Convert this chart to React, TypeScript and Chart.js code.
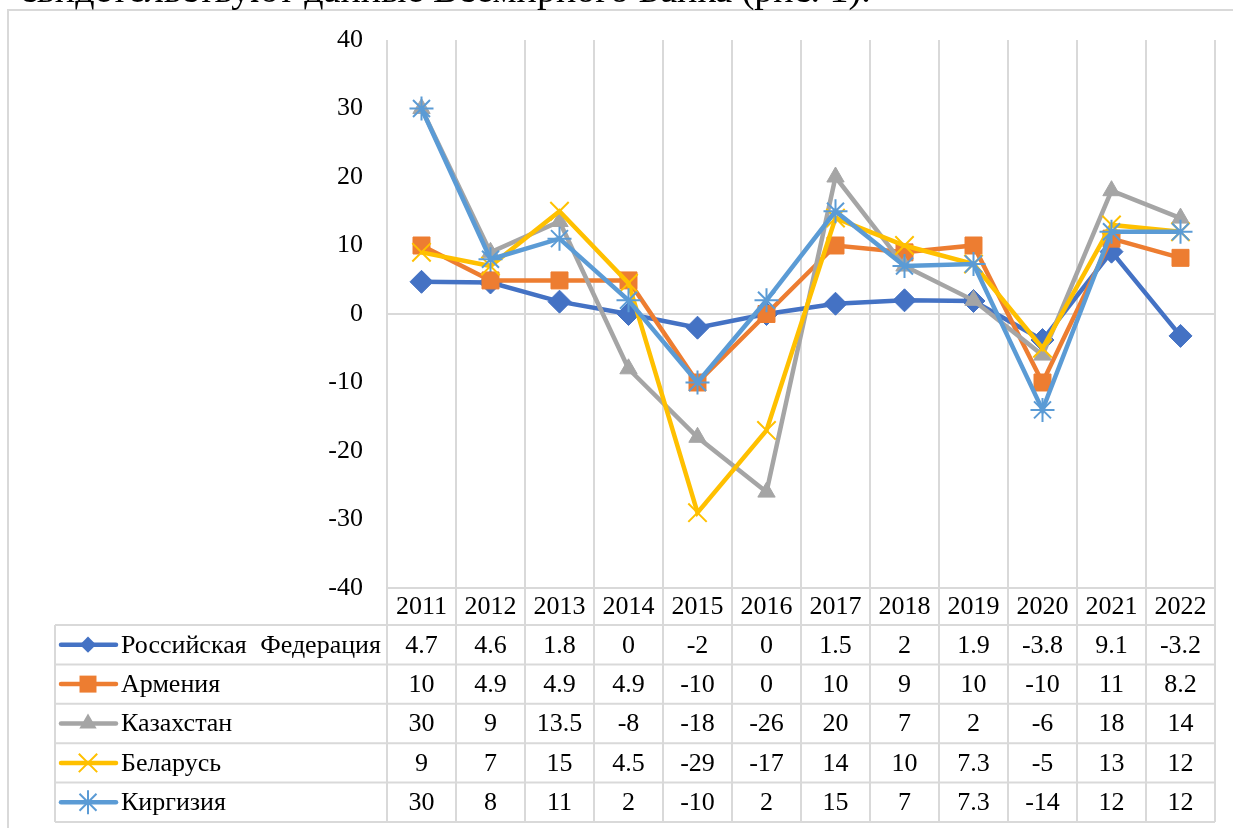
import React, { useEffect, useRef } from "react";
import { Chart, registerables } from "chart.js";

Chart.register(...registerables);

const years = ["2011", "2012", "2013", "2014", "2015", "2016", "2017", "2018", "2019", "2020", "2021", "2022"];
const russia = [4.7, 4.6, 1.8, 0, -2, 0, 1.5, 2, 1.9, -3.8, 9.1, -3.2];
const armenia = [10, 4.9, 4.9, 4.9, -10, 0, 10, 9, 10, -10, 11, 8.2];
const kazakhstan = [30, 9, 13.5, -8, -18, -26, 20, 7, 2, -6, 18, 14];
const belarus = [9, 7, 15, 4.5, -29, -17, 14, 10, 7.3, -5, 13, 12];
const kirgizia = [30, 8, 11, 2, -10, 2, 15, 7, 7.3, -14, 12, 12];
const seriesNames = ["Российская Федерация", "Армения", "Казахстан", "Беларусь", "Киргизия"];
const seriesColors = ["#4472C4", "#ED7D31", "#A5A5A5", "#FFC000", "#5B9BD5"];
const yTicks = [40, 30, 20, 10, 0, -10, -20, -30, -40];

const FONT = '"Liberation Serif", "Times New Roman", serif';
const FS = 26;
const GRID = "#d9d9d9";

const pointStyles: string[] = ["rectRot", "rect", "triangle", "crossRot", "star"];
const pointRadii = [11.5, 12, 10, 13, 12];

function drawMarker(ctx: CanvasRenderingContext2D, style: string, r: number, x: number, y: number, color: string) {
  const h = r * Math.SQRT1_2;
  ctx.save();
  ctx.fillStyle = color;
  ctx.strokeStyle = color;
  ctx.lineCap = "butt";
  ctx.beginPath();
  if (style === "rectRot") {
    ctx.moveTo(x, y - h);
    ctx.lineTo(x + h, y);
    ctx.lineTo(x, y + h);
    ctx.lineTo(x - h, y);
    ctx.closePath();
    ctx.fill();
  } else if (style === "rect") {
    ctx.rect(x - h, y - h, 2 * h, 2 * h);
    ctx.fill();
  } else if (style === "triangle") {
    ctx.moveTo(x, y - r);
    ctx.lineTo(x + 0.866 * r, y + 0.5 * r);
    ctx.lineTo(x - 0.866 * r, y + 0.5 * r);
    ctx.closePath();
    ctx.fill();
  } else if (style === "crossRot") {
    ctx.lineWidth = 2;
    ctx.moveTo(x - h, y - h);
    ctx.lineTo(x + h, y + h);
    ctx.moveTo(x - h, y + h);
    ctx.lineTo(x + h, y - h);
    ctx.stroke();
  } else if (style === "star") {
    ctx.lineWidth = 2;
    ctx.moveTo(x - h, y - h);
    ctx.lineTo(x + h, y + h);
    ctx.moveTo(x - h, y + h);
    ctx.lineTo(x + h, y - h);
    ctx.moveTo(x, y - r);
    ctx.lineTo(x, y + r);
    ctx.moveTo(x - r, y);
    ctx.lineTo(x + r, y);
    ctx.stroke();
  }
  ctx.restore();
}

const tablePlugin = {
  id: "tablePlugin",
  beforeDraw(chart: any) {
    const ctx = chart.ctx;
    ctx.save();
    ctx.fillStyle = "#ffffff";
    ctx.fillRect(0, 0, chart.width, chart.height);
    ctx.restore();
  },
  afterDraw(chart: any) {
    const ctx = chart.ctx;
    const area = chart.chartArea;
    const x = chart.scales.x;
    const n = years.length;
    const colW = (x.right - x.left) / n;
    const legendLeft = 55;
    const headerBottom = 625;
    const rowH = 39.4;
    const tableBottom = headerBottom + rowH * 5;
    ctx.save();
    ctx.strokeStyle = GRID;
    ctx.lineWidth = 2;
    ctx.beginPath();
    ctx.moveTo(8, chart.height);
    ctx.lineTo(8, 10);
    ctx.lineTo(chart.width, 10);
    ctx.stroke();
    ctx.beginPath();
    for (let k = 0; k <= n; k++) {
      const px = x.left + k * colW;
      ctx.moveTo(px, area.bottom);
      ctx.lineTo(px, tableBottom);
    }
    ctx.moveTo(x.left, area.bottom);
    ctx.lineTo(x.right, area.bottom);
    for (let r = 0; r <= 5; r++) {
      const py = headerBottom + r * rowH;
      ctx.moveTo(legendLeft, py);
      ctx.lineTo(x.right, py);
    }
    ctx.moveTo(legendLeft, headerBottom);
    ctx.lineTo(legendLeft, tableBottom);
    ctx.stroke();

    const dsets = chart.data.datasets;
    for (let r = 0; r < 5; r++) {
      const cy = headerBottom + r * rowH + rowH / 2;
      const ds = dsets[r];
      ctx.strokeStyle = ds.borderColor;
      ctx.lineWidth = 4.5;
      ctx.lineCap = "round";
      ctx.beginPath();
      ctx.moveTo(61, cy);
      ctx.lineTo(116, cy);
      ctx.stroke();
      drawMarker(ctx, pointStyles[r], pointRadii[r], 88, cy, seriesColors[r]);
      ctx.fillStyle = "#000";
      ctx.font = `${FS}px ${FONT}`;
      ctx.textAlign = "left";
      ctx.textBaseline = "middle";
      (ctx as any).wordSpacing = "7px";
      ctx.fillText(seriesNames[r], 121, cy + 1);
      (ctx as any).wordSpacing = "0px";
      ctx.textAlign = "center";
      const vals = ds.data as number[];
      for (let i = 0; i < n; i++) {
        ctx.fillText(String(vals[i]), x.getPixelForValue(i), cy + 1);
      }
    }
    ctx.restore();
  },
};

export default function App() {
  const ref = useRef<HTMLCanvasElement | null>(null);
  useEffect(() => {
    if (!ref.current) return;
    const all = [russia, armenia, kazakhstan, belarus, kirgizia];
    const chart = new Chart(ref.current, {
      type: "line",
      data: {
        labels: years,
        datasets: all.map((d, i) => ({
          label: seriesNames[i],
          data: d,
          borderColor: seriesColors[i],
          backgroundColor: seriesColors[i],
          pointBackgroundColor: seriesColors[i],
          pointBorderColor: seriesColors[i],
          pointStyle: pointStyles[i] as any,
          pointRadius: pointRadii[i],
          pointBorderWidth: i >= 3 ? 2 : 1,
          borderWidth: 4.5,
          tension: 0,
          order: 4 - i,
        })),
      },
      plugins: [tablePlugin],
      options: {
        animation: false,
        responsive: false,
        maintainAspectRatio: false,
        layout: { padding: { left: 0, top: 40, right: 18, bottom: 0 } },
        plugins: { legend: { display: false }, tooltip: { enabled: false } },
        scales: {
          x: {
            type: "category",
            offset: true,
            grid: { offset: true, color: GRID, lineWidth: 2, drawTicks: false },
            border: { display: false },
            ticks: { font: { family: FONT, size: FS }, color: "#000", padding: 4, maxRotation: 0, autoSkip: false },
            afterFit: (s: any) => { s.height = 240; },
          },
          y: {
            min: -40,
            max: 40,
            afterBuildTicks: (s: any) => { s.ticks = yTicks.map((v) => ({ value: v })); },
            grid: {
              drawTicks: false,
              lineWidth: 2,
              color: (c: any) => (c.tick && c.tick.value === 0 ? GRID : "rgba(0,0,0,0)"),
            },
            border: { display: false },
            ticks: { font: { family: FONT, size: FS }, color: "#000", padding: 24 },
            afterFit: (s: any) => { s.width = 387; },
          },
        },
      },
    });
    return () => chart.destroy();
  }, []);
  return (
    <div style={{ position: "absolute", left: 0, top: 0, width: 1233, height: 828, overflow: "hidden", background: "#fff" }}>
      <canvas ref={ref} width={1233} height={828} style={{ position: "absolute", left: 0, top: 0, width: 1233, height: 828 }} />
      <div
        style={{
          position: "absolute",
          left: 20,
          top: -32,
          fontFamily: FONT,
          fontSize: 38,
          lineHeight: "42px",
          whiteSpace: "nowrap",
          color: "#000",
        }}
      >
        свидетельствуют данные Всемирного Банка (рис. 1).
      </div>
    </div>
  );
}
